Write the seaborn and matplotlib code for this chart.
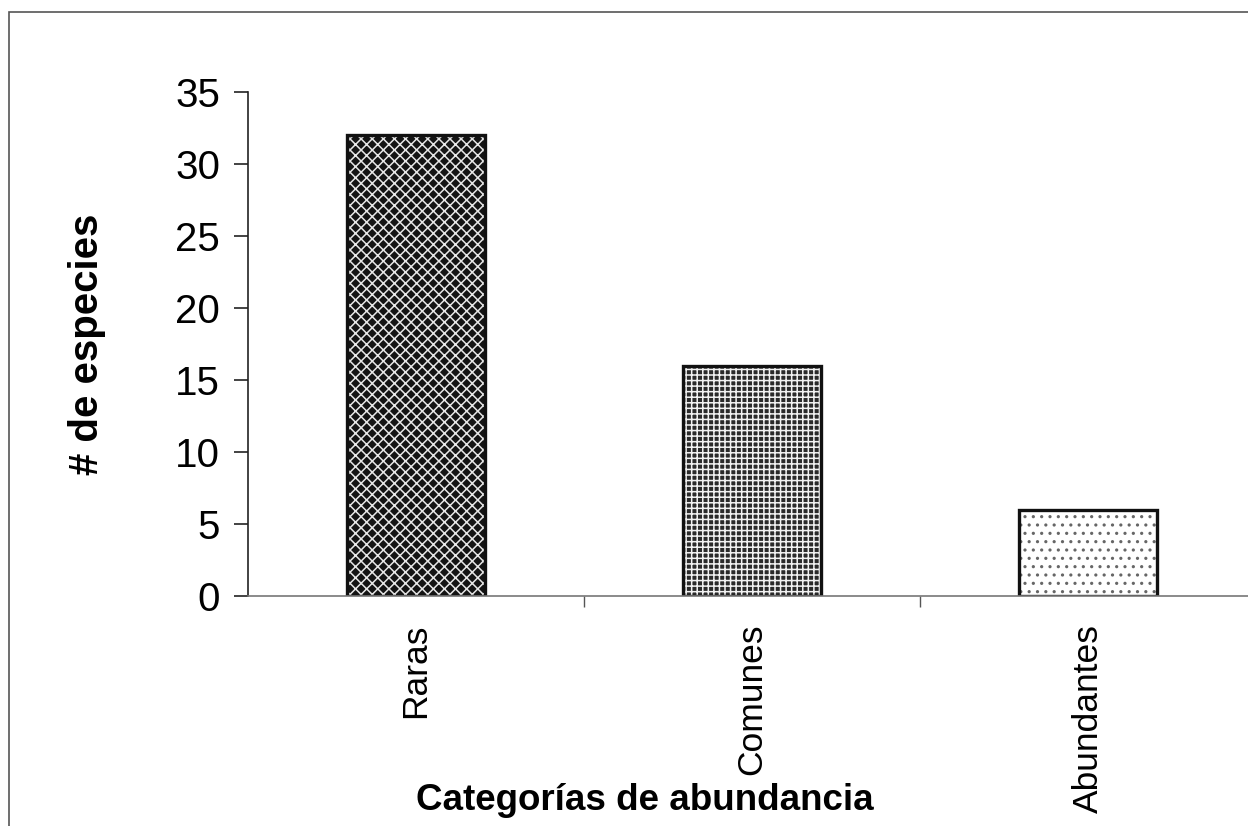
import matplotlib
matplotlib.use("Agg")
import matplotlib.pyplot as plt
import seaborn as sns
import pandas as pd
from matplotlib.patches import Rectangle

categories = ["Raras", "Comunes", "Abundantes"]
values = [32, 16, 6]

sns.set_theme(style="white")
plt.rcParams['font.family'] = ['Liberation Sans', 'DejaVu Sans']
plt.rcParams['hatch.linewidth'] = 1.1
plt.rcParams['text.color'] = 'black'

df = pd.DataFrame({"cat": categories, "n": values})

fig = plt.figure(figsize=(12.48, 8.26), dpi=100)
ax = fig.add_axes([248/1248, 1-596/826, 1-248/1248, (596-92)/826])

# hatched fills
fills = ["#141414", "#2a2a2a", "#ffffff"]
hatch_cols = ["#e6e6e6", "#f2f2f2", "#666666"]
hatches = ["xxx", "+++", ".."]
sns.barplot(data=df, x="cat", y="n", hue="cat", palette=fills, legend=False,
            width=0.41, linewidth=0, ax=ax, saturation=1)
for p, fc, hc, h in zip(ax.patches, fills, hatch_cols, hatches):
    p.set_facecolor(fc)
    p.set_hatch(h)
    p.set_edgecolor(hc)
    p.set_linewidth(0)
# outlines
sns.barplot(data=df, x="cat", y="n", fill=False, edgecolor="#111111",
            linewidth=2.4, width=0.41, ax=ax)

ax.set_ylim(0, 35)
ax.set_xlim(-0.5, 2.476)
ax.set_yticks(range(0, 36, 5))
ax.set_xticks([0.5, 1.5], minor=True)
ax.tick_params(axis="y", which="major", direction="out", length=10, width=1.2,
               color="#222222", labelsize=29, labelcolor="black", pad=10, left=True)
ax.tick_params(axis="x", which="major", length=0, labelsize=25.5, labelcolor="black",
               labelrotation=90, pad=20)
ax.tick_params(axis="x", which="minor", direction="out", length=8, width=1.0,
               color="#555555", bottom=True)
for s in ["top", "right"]:
    ax.spines[s].set_visible(False)
ax.spines["left"].set_color("#222222")
ax.spines["left"].set_linewidth(1.2)
ax.spines["bottom"].set_color("#777777")
ax.spines["bottom"].set_linewidth(1.2)
ax.set_xlabel("")
ax.set_ylabel("# de especies", fontsize=29, fontweight="bold", color="black")
ax.yaxis.set_label_coords(-(248-106)/1000, 0.5)
for lbl in ax.get_xticklabels():
    lbl.set_verticalalignment("top")

fig.text(645/1248, 1-800/826, "Categorías de abundancia", fontsize=26.5,
         fontweight="bold", ha="center", va="center", color="black")

fig.patches.append(Rectangle((9/1248, -0.1), 1.2, (826-12)/826 + 0.1,
                             transform=fig.transFigure, fill=False,
                             edgecolor="#555555", linewidth=1.2))

fig.savefig("out.png", dpi=100)
